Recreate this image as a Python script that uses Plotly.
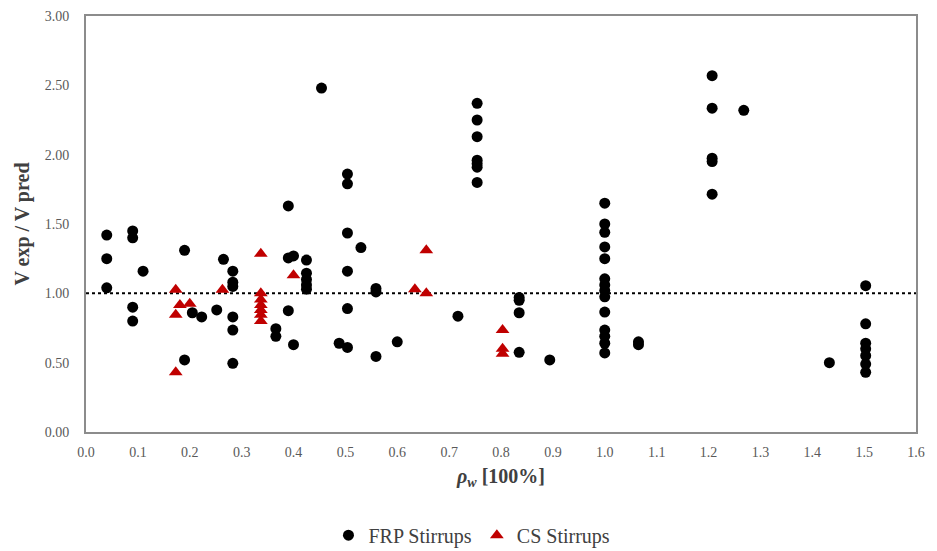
import plotly.graph_objects as go

# FRP stirrups data (rho_w [%], Vexp/Vpred)
frp_x = [0.04, 0.04, 0.04,
         0.09, 0.09, 0.09, 0.09,
         0.11,
         0.19, 0.19,
         0.205, 0.223, 0.252, 0.265,
         0.283, 0.283, 0.283, 0.283, 0.283, 0.283,
         0.366, 0.366,
         0.39, 0.39, 0.39,
         0.40, 0.40,
         0.425, 0.425, 0.425, 0.425, 0.425,
         0.454, 0.488,
         0.504, 0.504, 0.504, 0.504, 0.504, 0.504,
         0.53,
         0.559, 0.559, 0.559,
         0.60, 0.717,
         0.754, 0.754, 0.754, 0.754, 0.754, 0.754, 0.754,
         0.835, 0.835, 0.835, 0.835,
         0.894,
         1.0, 1.0, 1.0, 1.0, 1.0, 1.0, 1.0, 1.0, 1.0, 1.0, 1.0, 1.0, 1.0, 1.0,
         1.065, 1.065,
         1.207, 1.207, 1.207, 1.207, 1.207,
         1.268, 1.433,
         1.503, 1.503, 1.503, 1.503, 1.503, 1.503, 1.503]
frp_y = [1.42, 1.25, 1.04,
         1.45, 1.40, 0.90, 0.80,
         1.16,
         1.31, 0.52,
         0.86, 0.83, 0.88, 1.245,
         1.16, 1.08, 1.05, 0.83, 0.735, 0.495,
         0.745, 0.69,
         1.63, 1.255, 0.875,
         1.27, 0.63,
         1.24, 1.145, 1.10, 1.06, 1.03,
         2.48, 0.64,
         1.86, 1.79, 1.435, 1.16, 0.89, 0.61,
         1.33,
         1.035, 1.01, 0.545,
         0.65, 0.835,
         2.37, 2.25, 2.13, 1.96, 1.935, 1.91, 1.80,
         0.97, 0.95, 0.86, 0.575,
         0.52,
         1.65, 1.50, 1.44, 1.335, 1.25, 1.105, 1.06, 1.02, 0.975, 0.865, 0.735, 0.69, 0.64, 0.57,
         0.65, 0.63,
         2.57, 2.335, 1.975, 1.95, 1.715,
         2.32, 0.50,
         1.055, 0.78, 0.64, 0.60, 0.55, 0.49, 0.43]

# CS stirrups data
cs_x = [0.173, 0.173, 0.173, 0.181, 0.20, 0.263,
        0.337, 0.337, 0.337, 0.337, 0.337, 0.337, 0.337,
        0.40, 0.634, 0.656, 0.656,
        0.803, 0.803, 0.803]
cs_y = [1.025, 0.845, 0.43, 0.915, 0.925, 1.025,
        1.285, 1.0, 0.955, 0.915, 0.88, 0.845, 0.80,
        1.13, 1.03, 1.31, 1.00,
        0.735, 0.60, 0.565]

ref_x = [0.0, 1.6]
ref_y = [1.0, 1.0]

x_ticks = [round(i * 0.1, 1) for i in range(17)]
y_ticks = [0.0, 0.5, 1.0, 1.5, 2.0, 2.5, 3.0]

fig = go.Figure()
fig.add_trace(go.Scatter(x=ref_x, y=ref_y, mode="lines",
                         line=dict(color="black", width=2, dash="dot"),
                         showlegend=False, hoverinfo="skip"))
fig.add_trace(go.Scatter(x=frp_x, y=frp_y, mode="markers", name="FRP Stirrups",
                         marker=dict(symbol="circle", size=11, color="black")))
fig.add_trace(go.Scatter(x=cs_x, y=cs_y, mode="markers", name="CS Stirrups",
                         marker=dict(symbol="triangle-up", size=12, color="#c00000")))

font_family = "Liberation Serif, Times New Roman, serif"
tick_font = dict(family=font_family, size=14, color="#595959")
title_font = dict(family=font_family, size=20, color="#404040")

# page body has an 8px default margin, so the figure is sized to fit the window
fig.update_layout(
    template="simple_white",
    width=929, height=543,
    margin=dict(l=78, r=21, t=8, b=119, autoexpand=False),
    paper_bgcolor="white", plot_bgcolor="white",
    font=dict(family=font_family, size=14, color="#595959"),
    legend=dict(orientation="h", x=0.465, xanchor="center", y=-0.248, yanchor="middle",
                font=dict(family=font_family, size=20, color="#404040"),
                itemwidth=30, tracegroupgap=0),
    xaxis=dict(range=[0, 1.6], tickvals=x_ticks, tickformat=".1f", automargin=False,
               showgrid=False, zeroline=False, tickfont=tick_font,
               showline=True, mirror=True, linecolor="#8c8c8c", linewidth=2,
               ticks="outside", ticklen=6, tickcolor="rgba(0,0,0,0)",
               title=dict(text="<b><i>ρ<sub>w</sub></i> [100%]</b>",
                          font=title_font, standoff=10)),
    yaxis=dict(range=[0, 3.0], tickvals=y_ticks, tickformat=".2f", automargin=False,
               showgrid=False, zeroline=False, tickfont=tick_font,
               showline=True, mirror=True, linecolor="#8c8c8c", linewidth=2,
               ticks="outside", ticklen=12, tickcolor="rgba(0,0,0,0)",
               title=dict(text="<b>V exp / V pred</b>",
                          font=title_font, standoff=10)),
)

fig.write_html("out.html")
